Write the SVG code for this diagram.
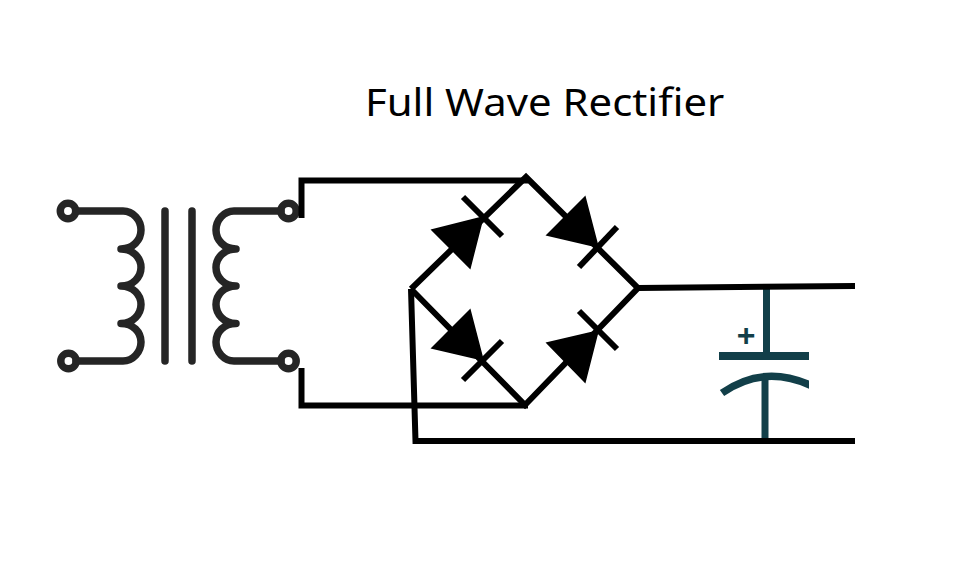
<svg xmlns="http://www.w3.org/2000/svg" width="975" height="571" viewBox="0 0 975 571">
<style>
.t{fill:none;stroke:#252525;stroke-width:7.500;stroke-linecap:round;stroke-linejoin:round}
.w{fill:none;stroke:#000;stroke-width:6;stroke-linecap:butt;stroke-linejoin:miter}
.c{fill:none;stroke:#123f49;stroke-linecap:butt}
.d{fill:#000;stroke:#000;stroke-width:1.500;stroke-linejoin:miter}
.title{font-family:"Noto Sans",sans-serif;font-size:38.500px;fill:#000}
.plus{font-family:"Liberation Sans",sans-serif;font-weight:700;font-size:32px;fill:#123f49;text-anchor:middle}
</style>
<defs><clipPath id="arcClip"><rect x="700" y="360" width="109" height="50"/></clipPath></defs>
<rect width="975" height="571" fill="#fff"/>
<g id="title"><text class="title" transform="translate(365 115.500) scale(1.088 1)">Full Wave Rectifier</text></g>
<g id="transformer">
<circle class="t" cx="68" cy="211" r="7.700"/>
<circle class="t" cx="68.500" cy="361" r="7.700"/>
<path class="t" d="M76 211H123C133 211 141 220 141 230C141 240 133 249 121 249C133 249 141 258 141 267.500C141 277 133 286 121 286C133 286 141 295 141 304.500C141 314 133 323.500 121 323.500C133 323.500 141 332 141 342C141 352 133 361 123 361H76"/>
<path class="t" d="M165 211V361M192 211V361"/>
<path class="t" d="M281 211H234C224 211 216 220 216 230C216 240 224 249 236 249C224 249 216 258 216 267.500C216 277 224 286 236 286C224 286 216 295 216 304.500C216 314 224 323.500 236 323.500C224 323.500 216 332 216 342C216 352 224 361 234 361H281"/>
<circle class="t" cx="288.500" cy="211" r="7.700"/>
<circle class="t" cx="288.500" cy="361" r="7.700"/>
</g>
<g id="capacitor">
<path class="c" stroke-width="7" d="M766.500 288V353"/>
<path class="c" stroke-width="8" d="M719 356H809"/>
<path class="c" stroke-width="7.500" clip-path="url(#arcClip)" stroke-linecap="round" d="M722 393Q765 363 814 387"/>
<path class="c" stroke-width="7" d="M765 378V440"/>
<text class="plus" x="746" y="346">+</text>
</g>
<g id="connectors">
<path class="w" d="M301.500 218V180.500H528"/>
<path class="w" d="M301.500 368V405.500H528"/>
<path class="w" d="M638 288L855 286"/>
<path class="w" d="M411 289L415.500 441H855"/>
<path class="w" d="M411 289L526 177L638 288L525 405L411 289"/>
</g>
<g id="diode-top-left"><polygon class="d" points="432,230 470,268 483,217"/><path class="w" d="M463 197L502 236"/></g>
<g id="diode-top-right"><polygon class="d" points="585,197 547,235 598,247"/><path class="w" d="M617 227L579 267"/></g>
<g id="diode-bottom-left"><polygon class="d" points="470,310 432,348 483,360"/><path class="w" d="M502 341L463 380"/></g>
<g id="diode-bottom-right"><polygon class="d" points="547,343 585,382 598,331"/><path class="w" d="M579 311L617 349"/></g>
</svg>
